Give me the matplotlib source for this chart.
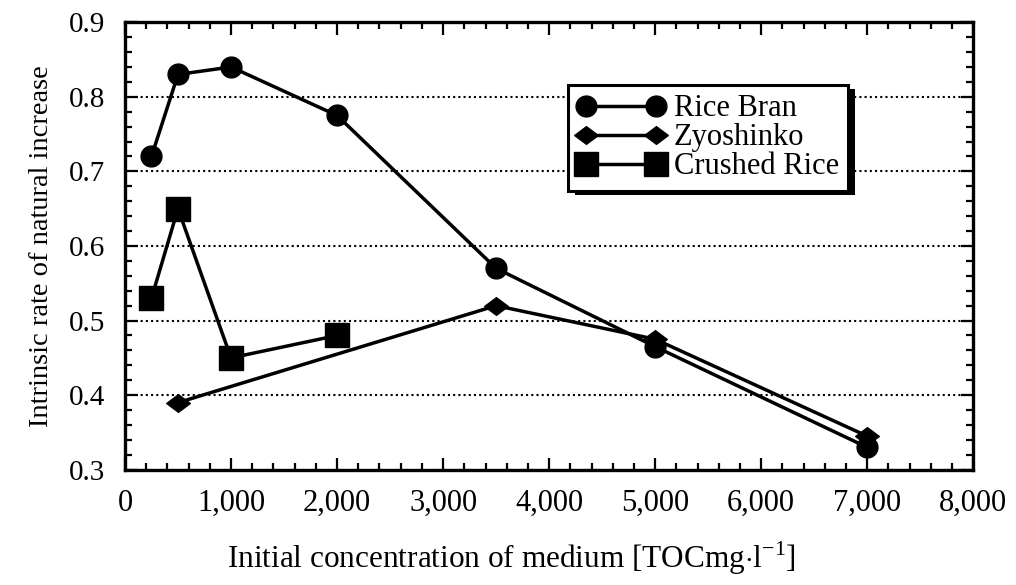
import numpy as np
import matplotlib
matplotlib.use("Agg")
import matplotlib.pyplot as plt
from matplotlib.ticker import MultipleLocator, FuncFormatter
from matplotlib.patches import Rectangle
from matplotlib.path import Path

plt.rcParams['font.family'] = ['Liberation Serif', 'DejaVu Serif']
plt.rcParams['mathtext.fontset'] = 'custom'
plt.rcParams['mathtext.rm'] = 'Liberation Serif'

# initial medium concentration [TOC mg/l] and intrinsic rate of increase
rice_bran_x = [250, 500, 1000, 2000, 3500, 5000, 7000]
rice_bran_y = [0.72, 0.83, 0.84, 0.775, 0.57, 0.465, 0.33]

zyoshinko_x = [500, 3500, 5000, 7000]
zyoshinko_y = [0.39, 0.52, 0.475, 0.345]

crushed_rice_x = [250, 500, 1000, 2000]
crushed_rice_y = [0.53, 0.65, 0.45, 0.48]

series_labels = ['Rice Bran', 'Zyoshinko', 'Crushed Rice']

# flattened diamond
diamond = Path([(-1, 0), (0, 0.75), (1, 0), (0, -0.75), (-1, 0)],
               [Path.MOVETO, Path.LINETO, Path.LINETO, Path.LINETO, Path.CLOSEPOLY])

fig = plt.figure(figsize=(10.16, 5.85), dpi=100)
ax = fig.add_axes([0.123, 0.197, 0.835, 0.765])

lw = 2.5
h1, = ax.plot(rice_bran_x, rice_bran_y, color='black', lw=lw, marker='o', ms=15,
              label=series_labels[0], zorder=3)
h2, = ax.plot(zyoshinko_x, zyoshinko_y, color='black', lw=lw, marker=diamond, ms=17,
              label=series_labels[1], zorder=3)
h3, = ax.plot(crushed_rice_x, crushed_rice_y, color='black', lw=lw, marker='s', ms=17,
              label=series_labels[2], zorder=3)

ax.set_xlim(0, 8000)
ax.set_ylim(0.3, 0.9)

ax.xaxis.set_major_locator(MultipleLocator(1000))
ax.xaxis.set_minor_locator(MultipleLocator(200))
ax.yaxis.set_major_locator(MultipleLocator(0.1))
ax.yaxis.set_minor_locator(MultipleLocator(0.02))
ax.xaxis.set_major_formatter(FuncFormatter(lambda v, p: f"{int(v):,}"))
ax.yaxis.set_major_formatter(FuncFormatter(lambda v, p: f"{v:.1f}"))

ax.tick_params(which='both', direction='in', top=True, right=True, width=1.6, color='black')
ax.tick_params(which='major', length=9)
ax.tick_params(which='minor', length=5)
ax.tick_params(axis='x', which='major', pad=14, labelsize=22)
ax.tick_params(axis='y', which='major', pad=14, labelsize=21)

for s in ax.spines.values():
    s.set_linewidth(2.4)

# dotted guide lines at each major y tick
ax.yaxis.grid(True, which='major', color='black', linestyle=(0, (1, 1.5)), lw=1.5)
ax.set_axisbelow(True)

ax.set_ylabel('Intrinsic rate of natural increase', fontsize=20.5, labelpad=11)
ax.set_xlabel(r'Initial concentration of medium [TOCmg$\cdot$l$^{\mathregular{-1}}$]',
              fontsize=22.5)
ax.xaxis.set_label_coords(0.456, -0.155)

leg = ax.legend(handles=[h1, h2, h3], loc='upper left', bbox_to_anchor=(0.522, 0.859),
                borderaxespad=0, fontsize=22, numpoints=2, handlelength=2.9,
                handletextpad=0.26, labelspacing=0.0, borderpad=0.3,
                fancybox=False, framealpha=1, edgecolor='black')
leg.get_frame().set_linewidth(2.2)

# solid drop shadow to the right and below the legend box
fig.canvas.draw()
bb = leg.get_window_extent().transformed(fig.transFigure.inverted())
ax.add_patch(Rectangle((bb.x0 + 7 / 1016, bb.y0 - 4 / 585), bb.width, bb.height,
                       transform=fig.transFigure, facecolor='black', edgecolor='none',
                       clip_on=False, zorder=4.9))

fig.savefig('out.png', dpi=100)
